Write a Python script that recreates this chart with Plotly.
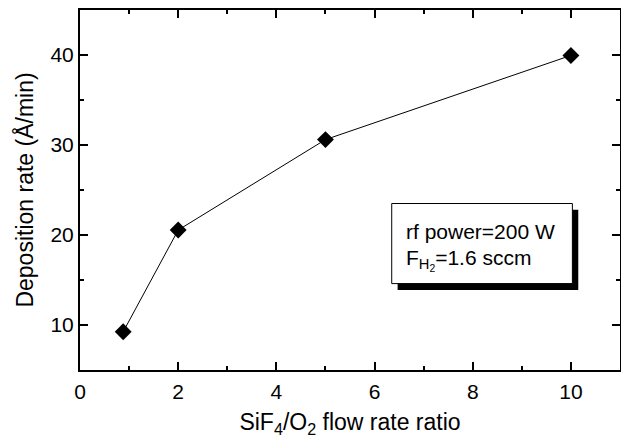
import plotly.graph_objects as go

ratio = [0.88, 2, 5, 10]
rate = [9.25, 20.55, 30.6, 39.95]
x_ticks = [0, 2, 4, 6, 8, 10]
y_ticks = [10, 20, 30, 40]

FONT = "Liberation Sans, Arial, sans-serif"

fig = go.Figure()
fig.add_trace(go.Scatter(
    x=ratio, y=rate, mode="lines+markers",
    line=dict(color="black", width=1),
    marker=dict(symbol="diamond", size=13, color="black"),
    showlegend=False, cliponaxis=False,
))

axis_common = dict(
    showline=True, linecolor="black", linewidth=2, mirror="allticks",
    ticks="inside", ticklen=8, tickwidth=1.5, tickcolor="black",
    showgrid=False, zeroline=False, automargin=False,
    tickfont=dict(family=FONT, size=21, color="black"),
    minor=dict(ticks="inside", ticklen=4, tickwidth=1.5, tickcolor="black"),
)

fig.update_xaxes(range=[0, 11], tickvals=x_ticks, dtick=2, ticklabelstandoff=2,
                 title=dict(text="SiF<sub>4</sub>/O<sub>2</sub> flow rate ratio",
                            font=dict(family=FONT, size=23, color="black"), standoff=12),
                 **axis_common)
fig.update_xaxes(minor_dtick=1)
fig.update_yaxes(range=[5, 45], tickvals=y_ticks, dtick=10,
                 title=dict(text="Deposition rate (Å/min)",
                            font=dict(family=FONT, size=23, color="black"), standoff=10),
                 **axis_common)
fig.update_yaxes(minor_dtick=5)

# shadowed text box
fig.add_shape(type="rect", xref="x", yref="y", x0=6.47, x1=10.15, y0=13.9, y1=22.8,
              fillcolor="black", line=dict(width=0), layer="above")
fig.add_shape(type="rect", xref="x", yref="y", x0=6.35, x1=10.03, y0=14.6, y1=23.5,
              fillcolor="white", line=dict(color="black", width=1), layer="above")

fig.add_annotation(x=6.6, y=20.4, xref="x", yref="y", xanchor="left", yanchor="middle",
                   text="rf power=200 W", showarrow=False,
                   font=dict(family=FONT, size=21, color="black"))
fig.add_annotation(x=6.6, y=17.2, xref="x", yref="y", xanchor="left", yanchor="middle",
                   text="F<sub>H<sub>2</sub></sub>=1.6 sccm", showarrow=False,
                   font=dict(family=FONT, size=21, color="black"))

fig.update_layout(
    width=621, height=441,
    margin=dict(l=80, r=1, t=10, b=71),
    plot_bgcolor="white", paper_bgcolor="white",
)

fig.write_html("out.html", config={"displayModeBar": False},
               post_script="document.body.style.margin='0';document.body.style.overflow='hidden';")
